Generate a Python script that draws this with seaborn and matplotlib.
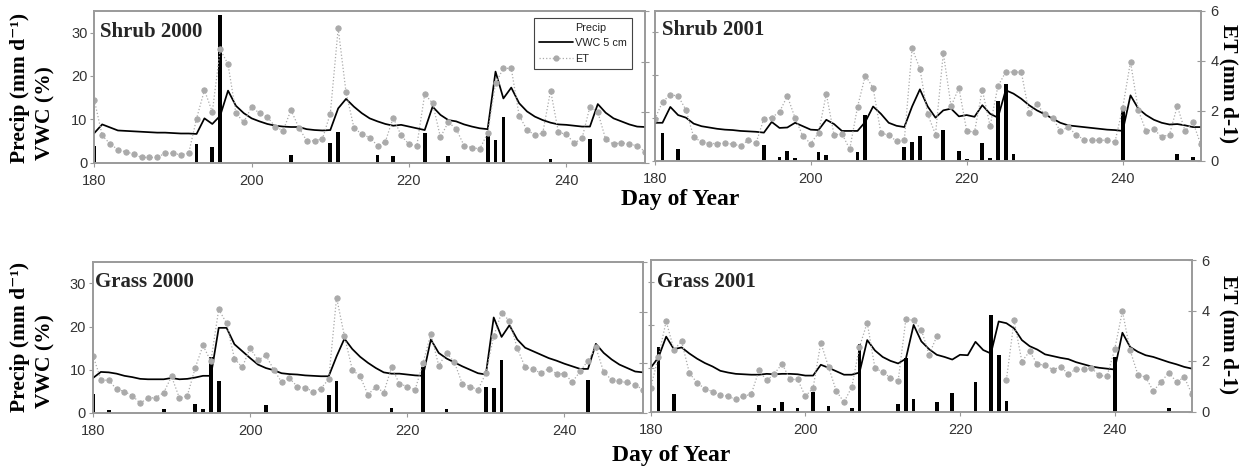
import numpy as np
import pandas as pd
import matplotlib
matplotlib.use("Agg")
import matplotlib.pyplot as plt
import seaborn as sns
from matplotlib.lines import Line2D
from matplotlib.patches import Patch

# ---------------- data ----------------
days = list(range(180, 251))
x_ticks = [180, 200, 220, 240]
left_ticks = [0, 10, 20, 30]
right_ticks = [0, 2, 4, 6]

panel_titles = ["Shrub 2000", "Shrub 2001", "Grass 2000", "Grass 2001"]
legend_labels = ["Precip", "VWC 5 cm", "ET"]

shrub2000_vwc = [6.8, 8.8, 8.1, 7.4, 7.3, 7.2, 7.1, 7.0, 6.9, 6.9, 6.8, 6.7, 6.7, 6.6, 10.2, 8.9,
                 10.8, 16.6, 13.1, 11.4, 10.2, 9.5, 8.9, 8.5, 8.3, 8.2, 8.2, 7.7, 7.5, 7.4, 7.5,
                 12.5, 14.7, 12.9, 11.4, 10.2, 9.5, 8.9, 8.5, 8.7, 8.3, 7.9, 7.5, 12.9, 11.0, 9.8,
                 9.5, 8.8, 8.3, 7.9, 7.7, 21.0, 14.8, 17.3, 13.7, 11.8, 10.6, 9.8, 9.2, 8.8, 8.7,
                 8.5, 8.3, 8.3, 13.5, 11.5, 10.2, 9.5, 8.8, 8.3, 8.2]
shrub2000_et = [2.48, 1.07, 0.74, 0.51, 0.42, 0.34, 0.2, 0.2, 0.2, 0.37, 0.37, 0.3, 0.37, 1.74,
                2.87, 2.0, 4.48, 3.89, 1.95, 1.6, 2.2, 1.95, 1.8, 1.42, 1.26, 2.08, 1.38, 0.86,
                0.86, 0.94, 1.94, 5.31, 2.78, 1.38, 1.12, 0.99, 0.67, 0.83, 1.78, 1.07, 0.72,
                0.67, 2.71, 2.35, 1.0, 1.6, 1.33, 0.67, 0.59, 0.54, 1.16, 3.14, 3.73, 3.73, 1.86,
                1.29, 1.09, 1.16, 2.85, 1.19, 1.12, 0.76, 0.96, 2.21, 2.0, 0.92, 0.72, 0.79, 0.72,
                0.67, 0.43]
shrub2000_rain_days = [180, 193, 195, 196, 205, 210, 211, 216, 218, 222, 225, 230, 231, 232, 238, 243]
shrub2000_rain = [3.7, 4.2, 3.5, 34.0, 1.7, 4.5, 7.0, 1.8, 1.4, 6.8, 1.4, 6.2, 5.1, 10.6, 0.8, 5.4]

shrub2001_vwc = [8.8, 8.8, 12.5, 10.6, 10.0, 8.6, 8.0, 7.7, 7.4, 7.2, 7.1, 6.9, 6.8, 6.7, 6.5, 9.0,
                 7.6, 7.7, 8.8, 8.0, 7.2, 7.1, 9.5, 8.5, 6.9, 6.9, 6.9, 9.0, 12.6, 10.9, 8.8, 8.1,
                 7.8, 12.6, 16.6, 12.6, 10.0, 11.7, 12.1, 10.3, 10.6, 10.2, 12.9, 10.9, 10.0, 16.4,
                 15.6, 14.4, 12.9, 11.7, 10.8, 9.8, 8.8, 8.2, 8.0, 7.8, 7.6, 7.4, 7.2, 7.1, 6.9,
                 15.2, 12.1, 10.6, 9.5, 8.8, 8.4, 8.5, 8.2, 7.8, 7.8]
shrub2001_et = [1.65, 2.34, 2.63, 2.58, 2.03, 0.94, 0.74, 0.68, 0.68, 0.70, 0.65, 0.59, 0.81, 0.70,
                1.68, 1.72, 1.94, 2.58, 1.70, 0.97, 0.68, 1.10, 2.67, 1.01, 1.08, 0.45, 2.14, 3.40,
                2.91, 1.10, 1.01, 0.78, 0.81, 4.49, 3.67, 1.85, 1.04, 4.30, 2.17, 2.91, 1.18, 1.14,
                2.83, 1.38, 2.97, 3.54, 3.54, 3.54, 1.90, 2.25, 1.85, 1.72, 1.17, 1.34, 1.04, 0.84,
                0.81, 0.81, 0.81, 0.73, 2.11, 3.95, 2.01, 1.17, 1.25, 0.94, 1.04, 2.18, 1.17, 1.54,
                0.65]
shrub2001_rain_days = [181, 183, 194, 196, 197, 198, 201, 202, 206, 207, 212, 213, 214, 217, 219,
                       220, 222, 223, 224, 225, 226, 240, 247, 249]
shrub2001_rain = [6.4, 2.6, 3.6, 0.9, 2.2, 0.5, 2.0, 1.2, 2.0, 10.7, 3.2, 4.3, 5.7, 7.2, 2.2,
                  0.4, 4.0, 0.5, 14.0, 17.8, 1.5, 11.9, 1.5, 0.9]

grass2000_vwc = [8.1, 9.5, 9.4, 9.1, 8.6, 8.3, 7.9, 7.8, 7.8, 7.8, 8.1, 7.8, 7.9, 8.2, 8.6, 8.6,
                 19.7, 19.7, 15.9, 14.3, 12.7, 11.2, 10.4, 9.9, 9.2, 9.0, 8.9, 8.7, 8.6, 8.5, 8.5,
                 13.1, 17.2, 14.8, 13.0, 11.6, 10.4, 9.4, 9.1, 9.1, 8.9, 8.7, 8.6, 17.0, 13.9, 12.6,
                 11.7, 10.8, 10.0, 9.2, 8.9, 22.1, 17.6, 20.3, 17.0, 15.1, 14.3, 13.5, 12.7, 12.1,
                 11.4, 10.8, 10.2, 10.2, 16.0, 13.9, 12.4, 11.2, 10.4, 9.6, 9.4]
grass2000_et = [2.28, 1.32, 1.29, 0.95, 0.85, 0.69, 0.39, 0.59, 0.61, 0.81, 1.45, 0.59, 0.68, 1.78,
                2.68, 2.05, 4.11, 3.56, 2.16, 1.81, 2.58, 2.09, 2.29, 1.72, 1.23, 1.38, 1.05, 1.01,
                0.85, 0.97, 1.34, 4.58, 3.05, 1.72, 1.45, 0.72, 1.05, 0.81, 1.81, 1.16, 1.05, 0.92,
                1.98, 3.14, 1.88, 2.38, 2.01, 1.16, 1.05, 0.92, 1.58, 3.05, 3.98, 3.65, 2.56, 1.82,
                1.74, 1.58, 1.76, 1.56, 1.56, 1.23, 1.65, 2.08, 2.6, 1.62, 1.32, 1.25, 1.21, 1.12,
                0.92]
grass2000_rain_days = [180, 182, 189, 193, 194, 195, 196, 202, 210, 211, 218, 222, 225, 230, 231, 232, 243]
grass2000_rain = [4.4, 0.6, 0.9, 2.1, 1.0, 13.0, 7.4, 1.9, 4.2, 7.5, 1.2, 10.6, 0.9, 5.9, 5.7, 12.2, 7.7]

grass2001_vwc = [10.1, 12.5, 17.3, 14.4, 14.8, 13.4, 12.2, 11.2, 10.4, 9.4, 9.0, 8.7, 8.6, 8.5, 8.5,
                 8.7, 8.6, 8.7, 8.7, 8.6, 8.3, 8.3, 10.8, 10.1, 9.3, 8.5, 8.5, 9.0, 16.5, 14.1, 12.6,
                 11.7, 11.1, 12.2, 20.0, 16.2, 14.4, 13.1, 12.6, 12.0, 13.1, 13.0, 16.1, 14.2, 13.4,
                 20.8, 20.4, 19.2, 16.5, 15.1, 14.3, 13.2, 12.8, 12.4, 12.1, 11.4, 10.9, 10.4, 10.1,
                 9.9, 9.7, 18.2, 14.9, 13.8, 13.0, 12.6, 12.0, 11.4, 10.9, 10.3, 9.9]
grass2001_et = [0.95, 2.17, 3.58, 2.45, 2.78, 1.52, 1.14, 0.90, 0.79, 0.66, 0.60, 0.48, 0.61, 0.68,
                1.63, 1.23, 1.50, 1.89, 1.27, 1.27, 0.60, 0.93, 2.73, 1.76, 0.81, 0.37, 0.97, 2.56,
                3.52, 1.72, 1.56, 1.34, 1.21, 3.66, 3.61, 3.24, 2.25, 2.98, np.nan, np.nan, np.nan,
                np.nan, np.nan, np.nan, np.nan, np.nan, 1.26, 3.61, 1.98, 2.38, 1.88, 1.83, 1.66,
                1.76, 1.50, 1.67, 1.67, 1.72, 1.43, 1.39, 2.46, 3.97, 2.42, 1.46, 1.36, 0.81, 1.17,
                1.54, 1.17, 1.36, 0.68]
grass2001_rain_days = [181, 183, 194, 196, 197, 199, 201, 203, 206, 207, 212, 213, 214, 217, 219,
                       222, 224, 225, 226, 240, 247]
grass2001_rain = [15.0, 4.1, 1.5, 0.8, 2.3, 0.8, 4.6, 1.2, 0.8, 15.5, 1.8, 12.4, 2.8, 2.1, 4.2,
                  6.7, 22.3, 13.0, 2.4, 12.6, 0.8]

# ---------------- style ----------------
sns.set_style("white")
plt.rcParams["font.family"] = ["Liberation Sans", "DejaVu Sans"]
SERIF = ["Liberation Serif", "DejaVu Serif"]
SPINE = "#9a9a9a"
TICKTXT = "#333333"
ET_COLOR = "#aaaaaa"

W, H = 1250, 472
fig = plt.figure(figsize=(W / 100, H / 100), dpi=100)


def box(l, t, r, b):
    return [l / W, 1 - b / H, (r - l) / W, (b - t) / H]


panels = [
    dict(rect=box(94.3, 11.0, 645.0, 162.5), title=panel_titles[0], vwc=shrub2000_vwc,
         et=shrub2000_et, rd=shrub2000_rain_days, rv=shrub2000_rain, left=True,
         tpos=(0.010, 0.861)),
    dict(rect=box(654.7, 10.5, 1200.7, 160.5), title=panel_titles[1], vwc=shrub2001_vwc,
         et=shrub2001_et, rd=shrub2001_rain_days, rv=shrub2001_rain, left=False,
         tpos=(0.013, 0.870)),
    dict(rect=box(93.0, 261.7, 643.0, 413.0), title=panel_titles[2], vwc=grass2000_vwc,
         et=grass2000_et, rd=grass2000_rain_days, rv=grass2000_rain, left=True,
         tpos=(0.004, 0.868)),
    dict(rect=box(650.7, 260.0, 1192.0, 411.5), title=panel_titles[3], vwc=grass2001_vwc,
         et=grass2001_et, rd=grass2001_rain_days, rv=grass2001_rain, left=False,
         tpos=(0.011, 0.858)),
]

first_ax2 = None
for p in panels:
    ax = fig.add_axes(p["rect"])
    rain_full = np.zeros(len(days))
    for d, v in zip(p["rd"], p["rv"]):
        rain_full[d - days[0]] = v
    df = pd.DataFrame({"day": days, "rain": rain_full, "vwc": p["vwc"],
                       "et": np.array(p["et"], dtype=float)})
    df["seg"] = df["et"].isna().cumsum()
    et_df = df.dropna(subset=["et"])

    sns.barplot(data=df, x="day", y="rain", native_scale=True, width=0.48, color="black",
                saturation=1, linewidth=0, errorbar=None, ax=ax, zorder=2)
    sns.lineplot(data=df, x="day", y="vwc", color="black", linewidth=1.25, ax=ax, zorder=3)
    ax.set_xlim(180, 250)
    ax.set_ylim(0, 35)
    ax.set_xticks(x_ticks)
    ax.set_yticks(left_ticks)
    ax.set_xlabel("")
    ax.set_ylabel("")
    ax.tick_params(axis="x", direction="out", length=3, width=0.8, color=SPINE,
                   labelsize=10.5, labelcolor=TICKTXT, pad=5, bottom=True)
    ax.tick_params(axis="y", direction="out" if p["left"] else "inout", length=3 if p["left"] else 5,
                   width=0.8, color=SPINE, labelsize=10.5, labelcolor=TICKTXT, pad=2,
                   left=True, labelleft=p["left"])

    ax2 = ax.twinx()
    sns.lineplot(data=et_df, x="day", y="et", units="seg", estimator=None, color=ET_COLOR,
                 linewidth=0.9, linestyle=":", marker="o", markersize=3.8,
                 markerfacecolor=ET_COLOR, markeredgecolor=ET_COLOR, ax=ax2)
    ax2.set_ylim(0, 6)
    ax2.set_xlim(180, 250)
    ax2.set_yticks(right_ticks)
    ax2.set_ylabel("")
    ax2.set_xlabel("")
    ax2.tick_params(axis="y", direction="inout", length=6, width=0.8, color=SPINE,
                    labelsize=10.5, labelcolor=TICKTXT, pad=4, right=True,
                    labelright=not p["left"])
    for a in (ax, ax2):
        for s in a.spines.values():
            s.set_color(SPINE)
            s.set_linewidth(1.2)
            s.set_visible(True)

    ax2.text(p["tpos"][0], p["tpos"][1], p["title"], transform=ax2.transAxes,
             fontfamily=SERIF, fontweight="bold", fontsize=15, ha="left", va="center", zorder=10)
    if first_ax2 is None:
        first_ax2 = ax2

# legend in first panel
h_p = Patch(facecolor="none", edgecolor="none")
h_v = Line2D([], [], color="black", lw=1.25)
h_e = Line2D([], [], color=ET_COLOR, lw=0.9, ls=":", marker="o", markersize=3.5,
             markerfacecolor=ET_COLOR, markeredgecolor=ET_COLOR)
leg = first_ax2.legend([h_p, h_v, h_e], legend_labels, loc="upper left",
                       bbox_to_anchor=(0.798, 0.954), borderaxespad=0, frameon=True,
                       fancybox=False, edgecolor="#444444", fontsize=7.8, handlelength=3.2,
                       handletextpad=0.2, labelspacing=0.5, borderpad=0.45, framealpha=1)
leg.get_frame().set_linewidth(0.8)
for t in leg.get_texts():
    t.set_color("#222222")

# axis titles
lab_kw = dict(fontfamily=SERIF, fontweight="bold", fontsize=15.5, color="black")
for top_b, vwc_b in ((163.0, 160.0), (411.7, 408.0)):
    fig.text(20 / W, 1 - top_b / H, "Precip (mm d\u207b\u00b9)", rotation=90, ha="center",
             va="bottom", **lab_kw)
    fig.text(45 / W, 1 - vwc_b / H, "VWC (%)", rotation=90, ha="center", va="bottom", **lab_kw)
for yc in (83.5, 334.5):
    fig.text(1229 / W, 1 - yc / H, "ET (mm d-1)", rotation=-90, ha="center", va="center",
             **lab_kw)
for xc, yc in ((680, 200), (671, 456)):
    fig.text(xc / W, 1 - yc / H, "Day of Year", ha="center", va="center",
             fontfamily=SERIF, fontweight="bold", fontsize=17, color="black")

fig.savefig("out.png", dpi=100)
